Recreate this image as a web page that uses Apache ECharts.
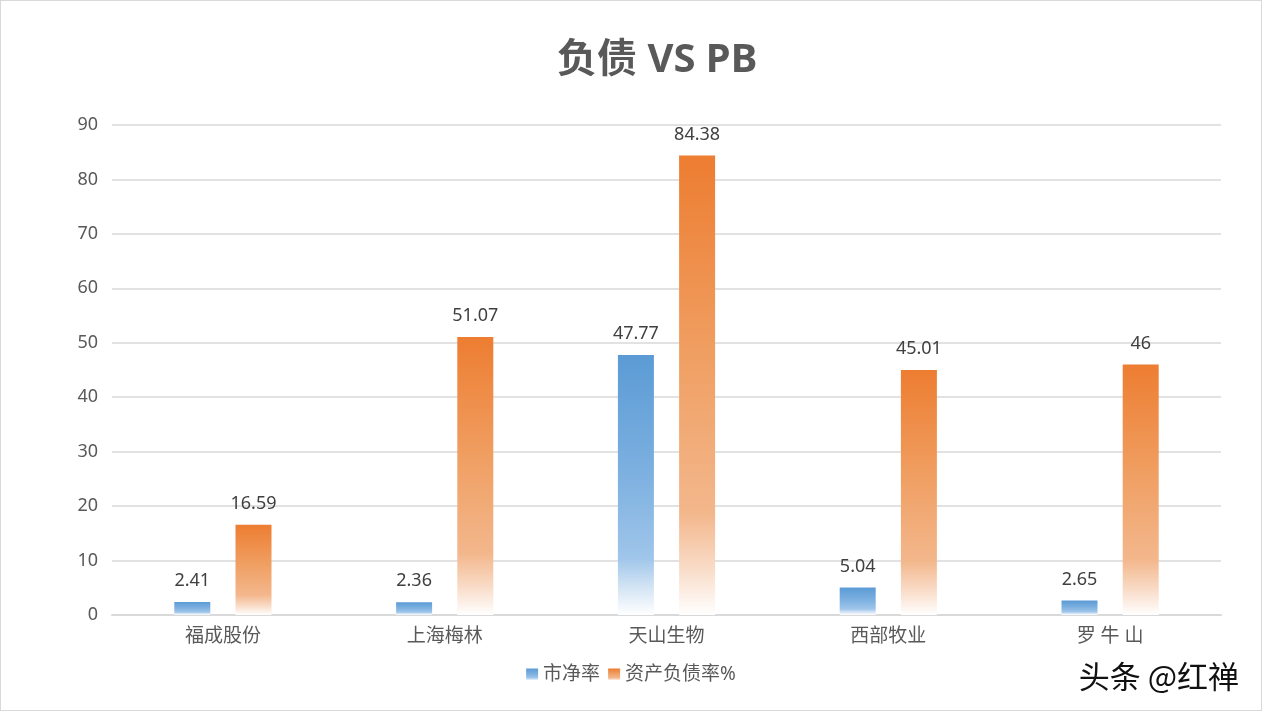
<!DOCTYPE html>
<html><head><meta charset="utf-8">
<script src="https://cdn.jsdelivr.net/npm/echarts@6/dist/echarts.min.js"></script>
<style>html,body{margin:0;padding:0;background:#fff}#c{width:1262px;height:711px;box-sizing:border-box;border:1px solid #d9d9d9}</style>
</head><body><div id="c"></div>
<script>
const categories = ['福成股份', '上海梅林', '天山生物', '西部牧业', '罗 牛 山'];
const pbValues = [2.41, 2.36, 47.77, 5.04, 2.65];
const debtValues = [16.59, 51.07, 84.38, 45.01, 46];
const seriesNames = ['市净率', '资产负债率%'];

const FONT = '"Noto Sans", "Noto Sans CJK SC", sans-serif';
function grad(stops){
  return new echarts.graphic.LinearGradient(0,0,0,1, stops.map(s=>({offset:s[0],color:s[1]})));
}
const blueGrad = grad([[0,'#5B9BD5'],[0.45,'#7CB0E0'],[0.78,'#9fc5ea'],[0.9,'#d6e6f5'],[1,'#ffffff']]);
const orangeGrad = grad([[0,'#ED7D31'],[0.45,'#F0A064'],[0.78,'#F3B78C'],[0.9,'#f9dcc8'],[1,'#ffffff']]);

const chart = echarts.init(document.getElementById('c'));
chart.setOption({
  backgroundColor:'#fff',
  textStyle:{fontFamily:FONT},
  title:{text:'负债 VS PB', left:551, top:35, textStyle:{fontSize:40, fontWeight:'bold', color:'#595959', fontFamily:FONT}},
  legend:{bottom:21, left:'center', itemWidth:12, itemHeight:12, itemGap:8, icon:'rect',
    textStyle:{fontSize:19, color:'#595959', fontFamily:FONT}, data:seriesNames},
  grid:{left:111, right:40, top:124, bottom:95, containLabel:false},
  xAxis:{type:'category', data:categories,
    axisLine:{lineStyle:{color:'#d9d9d9', width:2}}, axisTick:{show:false},
    axisLabel:{fontSize:19, color:'#595959', margin:12, fontFamily:FONT}},
  yAxis:{type:'value', min:0, max:90, interval:10,
    axisLine:{show:false}, axisTick:{show:false},
    splitLine:{lineStyle:{color:'#d9d9d9', width:1.5}},
    axisLabel:{fontSize:18, color:'#595959', margin:14, fontFamily:FONT}},
  series:[
    {name:seriesNames[0], type:'bar', data:pbValues, barWidth:36, barGap:'70%',
     itemStyle:{color:blueGrad},
     label:{show:true, position:'top', distance:12, fontSize:18, color:'#404040', fontFamily:FONT}},
    {name:seriesNames[1], type:'bar', data:debtValues, barWidth:36,
     itemStyle:{color:orangeGrad},
     label:{show:true, position:'top', distance:12, fontSize:18, color:'#404040', fontFamily:FONT}}
  ],
  graphic:[{type:'text', right:22, bottom:18, style:{text:'头条 @红禅', fontSize:31, fill:'#111', fontFamily:'"Noto Sans CJK SC", sans-serif'}}]
});
</script></body></html>
